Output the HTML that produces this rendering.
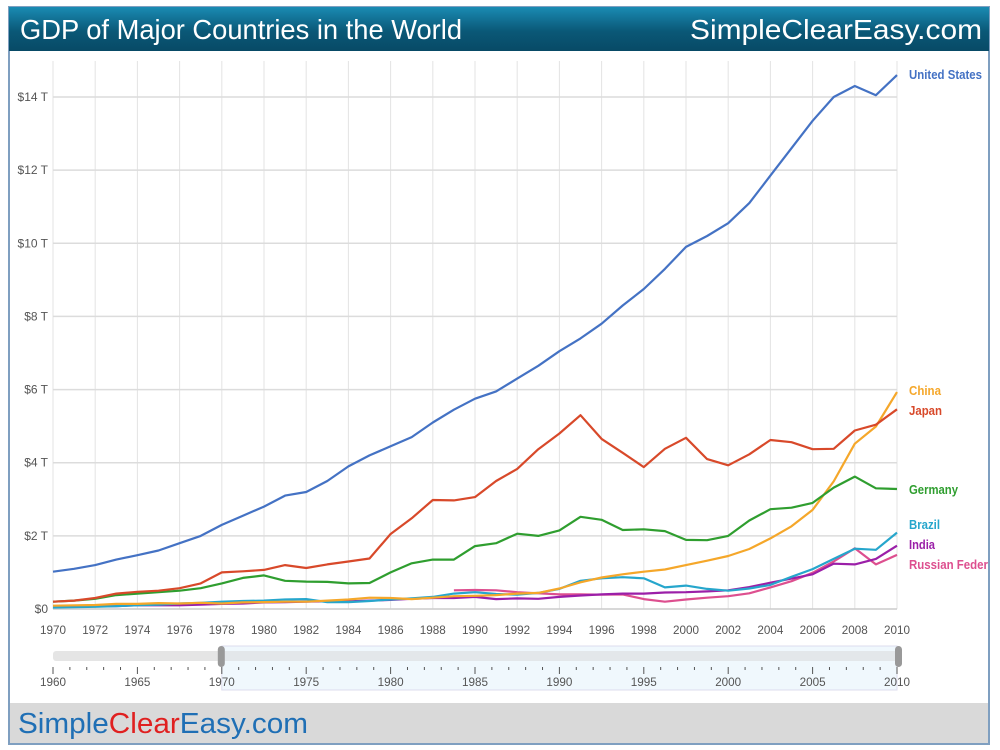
<!DOCTYPE html>
<html><head><meta charset="utf-8">
<style>
body{margin:0;background:#fff;width:1000px;height:750px;overflow:hidden;font-family:"Liberation Sans",sans-serif}
#frame{position:absolute;left:8px;top:6px;width:982px;height:739px;border:2px solid #7f9fc0;box-sizing:border-box}
#hdr{position:absolute;left:9px;top:7px;width:980px;height:44px;background:linear-gradient(#1a8bb3,#0a5877 55%,#084a66)}
#ftr{position:absolute;left:10px;top:703px;width:978px;height:40px;background:#d9d9d9}
svg{position:absolute;left:0;top:0}
</style></head><body>
<div id="frame"></div>
<div id="hdr"></div>
<div id="ftr"></div>
<svg id="c" width="1000" height="750">
<text x="20" y="39" font-size="28" fill="#fff" textLength="442" lengthAdjust="spacingAndGlyphs">GDP of Major Countries in the World</text>
<text x="690" y="39" font-size="28" fill="#fff" textLength="292" lengthAdjust="spacingAndGlyphs">SimpleClearEasy.com</text>
<text x="18" y="733" font-size="29" fill="#1f6fb5" textLength="290" lengthAdjust="spacingAndGlyphs">Simple<tspan fill="#e02020">Clear</tspan>Easy.com</text>
</svg>
<script>
const years=[];for(let y=1970;y<=2010;y++)years.push(y);
const yTicks=[0,2,4,6,8,10,12,14];
const yTickLabels=["$0","$2 T","$4 T","$6 T","$8 T","$10 T","$12 T","$14 T"];
const usa=[1.02,1.1,1.2,1.35,1.47,1.6,1.8,2.0,2.3,2.55,2.8,3.1,3.2,3.5,3.9,4.2,4.45,4.7,5.1,5.45,5.75,5.95,6.3,6.65,7.05,7.4,7.8,8.3,8.75,9.3,9.9,10.2,10.55,11.1,11.85,12.6,13.35,14.0,14.3,14.05,14.6];
const japan=[0.2,0.23,0.3,0.42,0.47,0.5,0.57,0.7,1.0,1.03,1.07,1.2,1.12,1.22,1.3,1.38,2.05,2.48,2.98,2.97,3.06,3.5,3.83,4.37,4.8,5.3,4.65,4.27,3.88,4.38,4.68,4.1,3.93,4.23,4.62,4.56,4.37,4.38,4.88,5.04,5.46];
const germany=[0.2,0.23,0.28,0.38,0.42,0.46,0.5,0.57,0.7,0.85,0.92,0.77,0.75,0.74,0.7,0.71,1.0,1.25,1.35,1.35,1.72,1.8,2.06,2.0,2.15,2.52,2.44,2.16,2.18,2.13,1.89,1.88,2.0,2.42,2.73,2.77,2.9,3.32,3.62,3.3,3.28];
const china=[0.09,0.1,0.11,0.14,0.14,0.16,0.15,0.17,0.15,0.18,0.19,0.2,0.2,0.23,0.26,0.31,0.3,0.27,0.31,0.35,0.36,0.38,0.42,0.44,0.56,0.73,0.86,0.95,1.02,1.08,1.2,1.32,1.45,1.64,1.93,2.26,2.71,3.49,4.52,4.99,5.93];
const brazil=[0.04,0.05,0.06,0.08,0.1,0.12,0.15,0.17,0.2,0.22,0.23,0.26,0.27,0.19,0.19,0.22,0.26,0.29,0.33,0.42,0.46,0.41,0.39,0.44,0.55,0.77,0.84,0.87,0.84,0.59,0.64,0.55,0.5,0.56,0.66,0.88,1.09,1.37,1.65,1.62,2.09];
const india=[0.06,0.07,0.07,0.08,0.1,0.1,0.1,0.12,0.14,0.15,0.18,0.19,0.2,0.21,0.21,0.23,0.25,0.28,0.3,0.3,0.33,0.27,0.29,0.28,0.33,0.37,0.4,0.42,0.42,0.45,0.46,0.48,0.51,0.6,0.72,0.83,0.95,1.24,1.22,1.37,1.73];
const russia=[null,null,null,null,null,null,null,null,null,null,null,null,null,null,null,null,null,null,null,0.51,0.52,0.51,0.46,0.43,0.4,0.4,0.39,0.4,0.27,0.2,0.26,0.31,0.35,0.43,0.59,0.76,0.99,1.3,1.66,1.22,1.48];
const seriesNames=["United States","China","Japan","Germany","Brazil","India","Russian Feder"];
const sliderLabels=[1960,1965,1970,1975,1980,1985,1990,1995,2000,2005,2010];

const svg=document.getElementById('c');const NS="http://www.w3.org/2000/svg";
function mk(t,a,p){const e=document.createElementNS(NS,t);for(const k in a)e.setAttribute(k,a[k]);(p||svg).appendChild(e);return e;}
const x0=53,x1=897,yb=609,yt=97;
const X=y=>x0+(y-1970)*(x1-x0)/40;
const Y=v=>yb-v*(yb-yt)/14;
for(let y=1970;y<=2010;y+=2){const l=mk('line',{x1:X(y),x2:X(y),y1:61,y2:yb,stroke:'#e3e3e3'});


const t=mk('text',{x:X(y),y:634,'text-anchor':'middle','font-size':12,fill:'#555',textLength:26,lengthAdjust:'spacingAndGlyphs'});t.textContent=y;

}
yTicks.forEach((v,i)=>{const l=mk('line',{x1:x0,x2:x1,y1:Y(v),y2:Y(v),stroke:v===0?'#ccc':'#dcdcdc','stroke-width':1.5});


const t=mk('text',{x:48,y:Y(v)+4,'text-anchor':'end','font-size':12,fill:'#555'});t.textContent=yTickLabels[i];

});
const ser=[[russia,'#dd4f8f','series-russia'],[india,'#9b1fa8','series-india'],[brazil,'#26a6cc','series-brazil'],[china,'#f5a72a','series-china'],[germany,'#2f9e2f','series-germany'],[japan,'#d8492a','series-japan'],[usa,'#4472c4','series-united-states']];
ser.forEach(([d,c,n])=>{let s='';d.forEach((v,i)=>{if(v==null)return;s+=(s?'L':'M')+X(years[i]).toFixed(1)+','+Y(v).toFixed(1);});
const p=mk('path',{d:s,fill:'none',stroke:c,'stroke-width':2.2,'stroke-linejoin':'round'});

});
const lab=[["United States",75,'#4472c4',73],["China",391,'#f5a72a',32],["Japan",411,'#d8492a',33],["Germany",490,'#2f9e2f',49],["Brazil",525,'#26a6cc',31],["India",545,'#9b1fa8',26],["Russian Feder",565,'#dd4f8f',79]];
lab.forEach(([t,y,c,w])=>{const e=mk('text',{x:909,y:y+4,'font-size':13,fill:c,'font-weight':'bold','textLength':w,'lengthAdjust':'spacingAndGlyphs'});e.textContent=t;

});
const S=y=>53+(y-1960)*(897-53)/50;
let r=mk('rect',{x:53,y:651,width:847,height:10,fill:'#e5e5e5',rx:3});


r=mk('rect',{x:S(1970),y:646,width:S(2010)-S(1970),height:44,fill:'#f0f8fd',stroke:'#dde','stroke-width':1});


r=mk('rect',{x:S(1970),y:651,width:S(2010)-S(1970),height:10,fill:'#e3e7ea'});


for(let y=1960;y<=2010;y++){const l=mk('line',{x1:S(y),x2:S(y),y1:667,y2:y%5===0?674:670,stroke:'#555'});

}
sliderLabels.forEach(y=>{const t=mk('text',{x:S(y),y:686,'text-anchor':'middle','font-size':12,fill:'#555',textLength:26,lengthAdjust:'spacingAndGlyphs'});t.textContent=y;

});
[S(1970)-4,S(2010)-2].forEach(x=>{const h=mk('rect',{x:x,y:646,width:7,height:21,rx:3.5,fill:'#999'});

});
</script>
</body></html>
